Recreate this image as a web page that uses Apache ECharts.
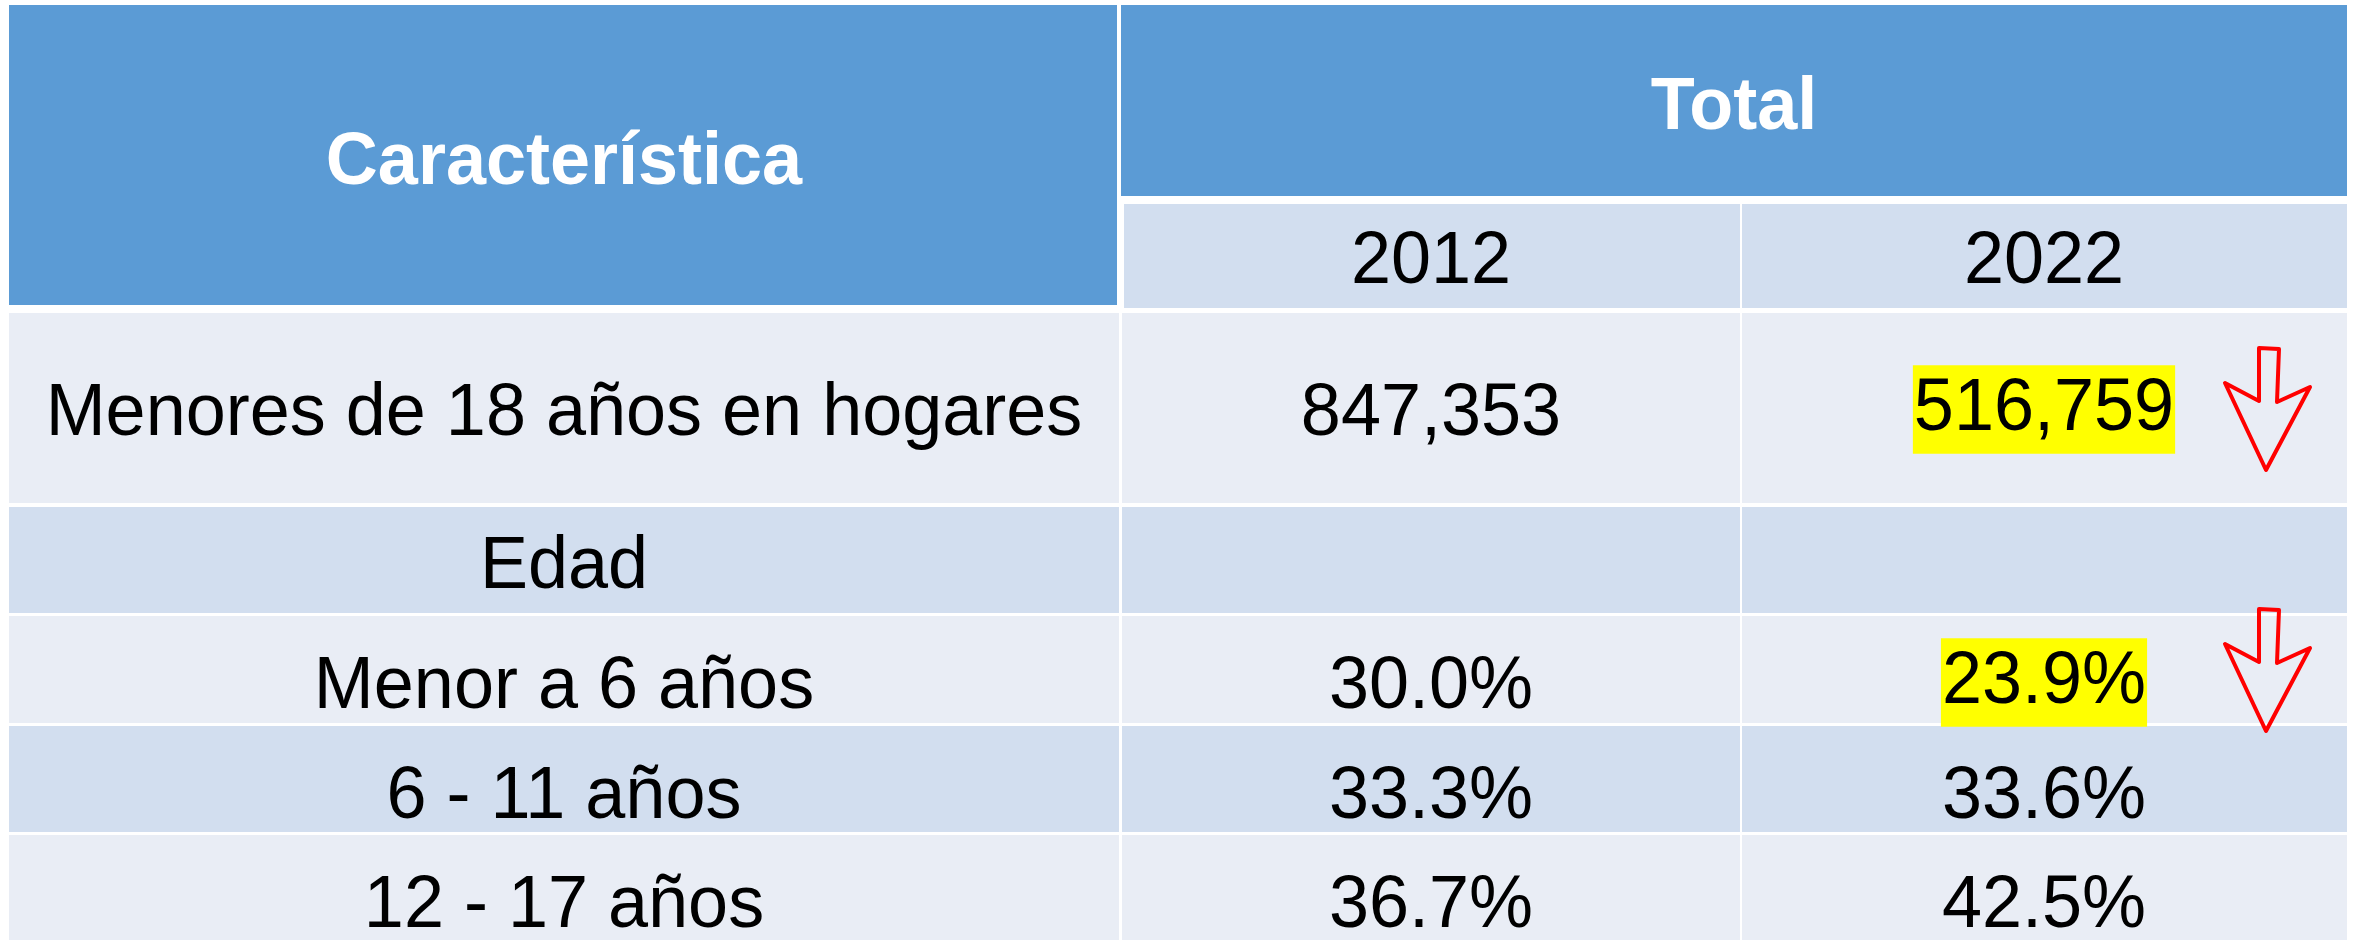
<!DOCTYPE html>
<html>
<head>
<meta charset="utf-8">
<title>Menores de 18 años en hogares</title>
<script src="https://cdn.jsdelivr.net/npm/echarts@6/dist/echarts.min.js"></script>
<style>
  html, body { margin: 0; padding: 0; background: #fff; }
  #chart { width: 2356px; height: 940px; }
</style>
</head>
<body>
<div id="chart"></div>
<script>
// datos de la tabla
const headerTitle = 'Característica';
const groupTitle = 'Total';
const years = ['2012', '2022'];
const rowLabels = ['Menores de 18 años en hogares', 'Edad', 'Menor a 6 años', '6 - 11 años', '12 - 17 años'];
const values2012 = [847353, null, 30.0, 33.3, 36.7];
const values2022 = [516759, null, 23.9, 33.6, 42.5];
const highlight2022 = [true, false, true, false, false]; // resaltado amarillo + flecha roja

// disposición: los ejes usan la misma escala que el lienzo
const W = 2356, H = 940;
const colLeft = [9, 1122, 1742];
const colRight = [1119, 1740, 2347];
const colCenter = [564, 1431, 2044];
const rowTop = [313, 507, 616, 726, 835];
const rowBottom = [503, 613, 723, 832, 940];
const rowTextY = [409, 562, 682, 792, 901]; // centro de las mayúsculas
const arrowTop = [348, null, 609, null, null];

const BLUE = '#5B9BD5';
const LIGHT = '#E9EDF5';
const DARK = '#D2DEEF';
const FONT = "'Liberation Sans', Arial, sans-serif";
const TEXT_SCALE_Y = 1.04; // el original está un poco estirado en vertical
const TEXT_SHIFT = 5.5;     // 'middle' queda algo por encima del centro de las mayúsculas

const fmt = (v, i) => v == null ? '' : (i === 0 ? v.toLocaleString('en-US') : v.toFixed(1) + '%');

const chart = echarts.init(document.getElementById('chart'));

// rectángulo a partir de la escala de los ejes
const rect = (api, x0, y0, x1, y1, color) => {
  const p0 = api.coord([x0, y0]);
  const p1 = api.coord([x1, y1]);
  return {
    type: 'rect',
    shape: { x: p0[0], y: p0[1], width: p1[0] - p0[0], height: p1[1] - p0[1] },
    style: { fill: color }
  };
};

const label = (api, x, y, text, opts, shift) => {
  const p = api.coord([x, y + (shift == null ? TEXT_SHIFT : shift)]);
  return {
    type: 'text',
    z2: 10,
    x: p[0],
    y: p[1],
    scaleY: TEXT_SCALE_Y,
    style: Object.assign({
      x: 0, y: 0, text: text,
      fill: '#000',
      font: 'normal 72px ' + FONT,
      align: 'center',
      verticalAlign: 'middle'
    }, opts || {})
  };
};

const renderHeader = (params, api) => ({
  type: 'group',
  children: [
    rect(api, 9, 5, 1117, 305, BLUE),
    rect(api, 1121, 5, 2347, 196, BLUE),
    rect(api, colLeft[1] + 2, 204, colRight[1], 308, DARK),
    rect(api, colLeft[2], 204, colRight[2], 308, DARK),
    label(api, colCenter[0], 158, headerTitle, { fill: '#fff', font: 'bold 72px ' + FONT }),
    label(api, 1734, 103, groupTitle, { fill: '#fff', font: 'bold 72px ' + FONT }),
    label(api, colCenter[1], 256.5, years[0]),
    label(api, colCenter[2], 256.5, years[1])
  ]
});

const renderRow = (params, api) => {
  const i = params.dataIndex;
  const color = i % 2 === 0 ? LIGHT : DARK;
  const children = [];
  for (let c = 0; c < 3; c++) {
    children.push(rect(api, colLeft[c], rowTop[i], colRight[c], rowBottom[i], color));
  }
  children.push(label(api, colCenter[0], rowTextY[i], rowLabels[i]));
  children.push(label(api, colCenter[1], rowTextY[i], fmt(values2012[i], i)));
  if (highlight2022[i]) {
    children.push(label(api, colCenter[2], rowTextY[i], fmt(values2022[i], i),
      { backgroundColor: '#FFFF00', lineHeight: 75, padding: [10, 1, 0, 1] }, 0.5));
  } else {
    children.push(label(api, colCenter[2], rowTextY[i], fmt(values2022[i], i)));
  }
  return { type: 'group', children: children };
};

// flecha de baja (contorno rojo)
const arrowShape = [[-7, 0], [13, 1], [11, 54], [44, 39], [0, 122], [-41, 35], [-7, 53]];
const renderArrow = (params, api) => {
  const i = params.dataIndex;
  if (!highlight2022[i] || arrowTop[i] == null) return null;
  const pts = arrowShape.map(d => api.coord([2266 + d[0], arrowTop[i] + d[1]]));
  return {
    type: 'polygon',
    z2: 20,
    shape: { points: pts },
    style: { fill: 'none', stroke: '#FF0000', lineWidth: 4, lineJoin: 'round' }
  };
};

const option = {
  backgroundColor: '#fff',
  animation: false,
  grid: { left: 0, right: 0, top: 0, bottom: 0 },
  xAxis: { type: 'value', min: 0, max: W, show: false },
  yAxis: { type: 'value', min: 0, max: H, inverse: true, show: false },
  series: [
    {
      type: 'custom',
      name: 'encabezado',
      renderItem: renderHeader,
      data: [[0]],
      z: 6,
      silent: true
    },
    {
      type: 'custom',
      name: 'filas',
      renderItem: renderRow,
      data: rowLabels.map((d, i) => [i]),
      silent: true
    },
    {
      type: 'custom',
      name: 'flechas',
      renderItem: renderArrow,
      data: rowLabels.map((d, i) => [i]),
      z: 5,
      silent: true
    }
  ]
};

chart.setOption(option);
window.addEventListener('resize', () => chart.resize());
</script>
</body>
</html>
